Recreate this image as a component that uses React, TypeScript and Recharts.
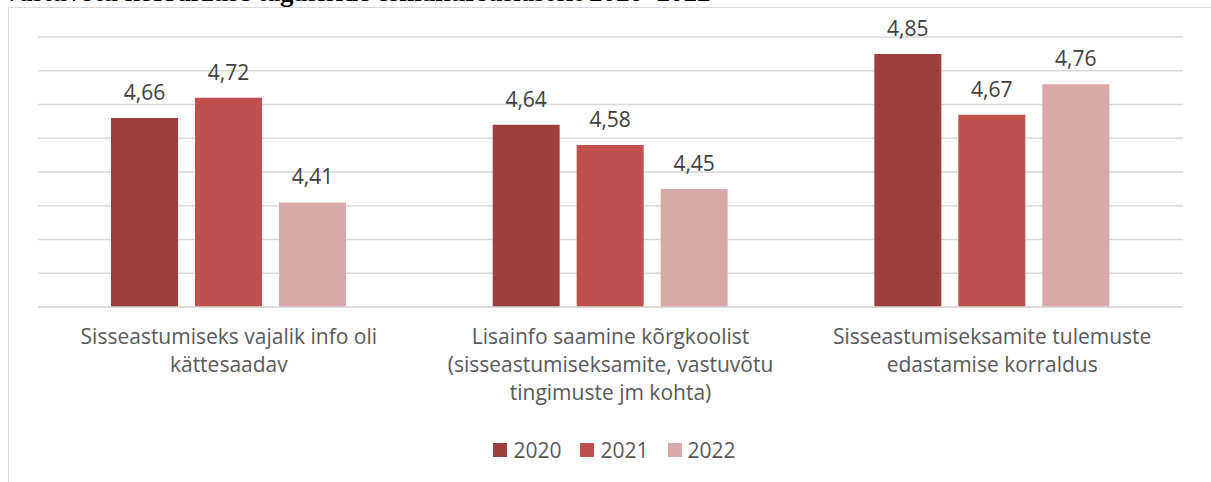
import React from "react";
import { BarChart, Bar, XAxis, YAxis, CartesianGrid, LabelList } from "recharts";

const categories = [
  ["Sisseastumiseks vajalik info oli", "kättesaadav"],
  ["Lisainfo saamine kõrgkoolist", "(sisseastumiseksamite, vastuvõtu", "tingimuste jm kohta)"],
  ["Sisseastumiseksamite tulemuste", "edastamise korraldus"],
];
const years = ["2020", "2021", "2022"];
const values2020 = [4.66, 4.64, 4.85];
const values2021 = [4.72, 4.58, 4.67];
const values2022 = [4.41, 4.45, 4.76];
const colors = ["#9E3F3F", "#C0504D", "#D9A9A9"];
const yTicks = [4.1, 4.2, 4.3, 4.4, 4.5, 4.6, 4.7, 4.8, 4.9];
const title = "Vastuvõtu korralduse tagasiside esmakursuslastelt 2020–2022";

const data = categories.map((lines, i) => ({
  name: lines.join("\n"),
  y2020: values2020[i],
  y2021: values2021[i],
  y2022: values2022[i],
}));

const FONT = "'Open Sans', sans-serif";
const FS = 21;

const CatTick = (props: any) => {
  const { x, y, payload } = props;
  const lines = String(payload.value).split("\n");
  return (
    <g transform={`translate(${x},${y})`}>
      {lines.map((l: string, i: number) => (
        <text
          key={i}
          x={0}
          y={29 + i * 28}
          textAnchor="middle"
          fill="#595959"
          fontSize={FS}
          fontFamily={FONT}
        >
          {l}
        </text>
      ))}
    </g>
  );
};

const fmt = (v: any) => Number(v).toFixed(2).replace(".", ",");

export default function App() {
  return (
    <div style={{ position: "absolute", left: 0, top: 0, width: 1211, height: 482, overflow: "hidden", background: "#fff" }}>
      <div
        style={{
          position: "absolute",
          left: 2,
          top: -23,
          fontFamily: "'Liberation Serif', serif",
          fontWeight: "bold",
          fontSize: 27,
          lineHeight: "30px",
          whiteSpace: "nowrap",
          color: "#000",
        }}
      >
        {title}
      </div>
      <div
        style={{
          position: "absolute",
          left: 8,
          top: 7,
          width: 1400,
          height: 600,
          border: "1.5px solid #D9D9D9",
        }}
      />
      <div style={{ position: "absolute", left: 0, top: 0 }}>
        <BarChart
          width={1211}
          height={482}
          data={data}
          margin={{ top: 37, left: 38, right: 28, bottom: 75 }}
          barGap={17}
          barCategoryGap={73}
        >
          <CartesianGrid vertical={false} stroke="#D9D9D9" strokeWidth={1.5} />
          <YAxis hide domain={[4.1, 4.9]} ticks={yTicks} type="number" allowDataOverflow />
          <XAxis
            dataKey="name"
            height={100}
            axisLine={{ stroke: "#D9D9D9", strokeWidth: 1.5 }}
            tickLine={false}
            tick={<CatTick />}
            interval={0}
          />
          {years.map((yr, i) => (
            <Bar key={yr} dataKey={`y${yr}`} name={yr} fill={colors[i]} isAnimationActive={false}>
              <LabelList
                dataKey={`y${yr}`}
                position="top"
                offset={18}
                formatter={fmt}
                fill="#404040"
                fontSize={FS}
                fontFamily={FONT}
              />
            </Bar>
          ))}
        </BarChart>
      </div>
      <div
        style={{
          position: "absolute",
          top: 436,
          left: 0,
          width: 1229,
          display: "flex",
          justifyContent: "center",
          fontFamily: FONT,
          fontSize: FS,
          color: "#595959",
        }}
      >
        {years.map((yr, i) => (
          <div key={yr} style={{ display: "flex", alignItems: "center", marginRight: i < 2 ? 19 : 0 }}>
            <div style={{ width: 14, height: 14, background: colors[i], marginRight: 6 }} />
            <span>{yr}</span>
          </div>
        ))}
      </div>
    </div>
  );
}
